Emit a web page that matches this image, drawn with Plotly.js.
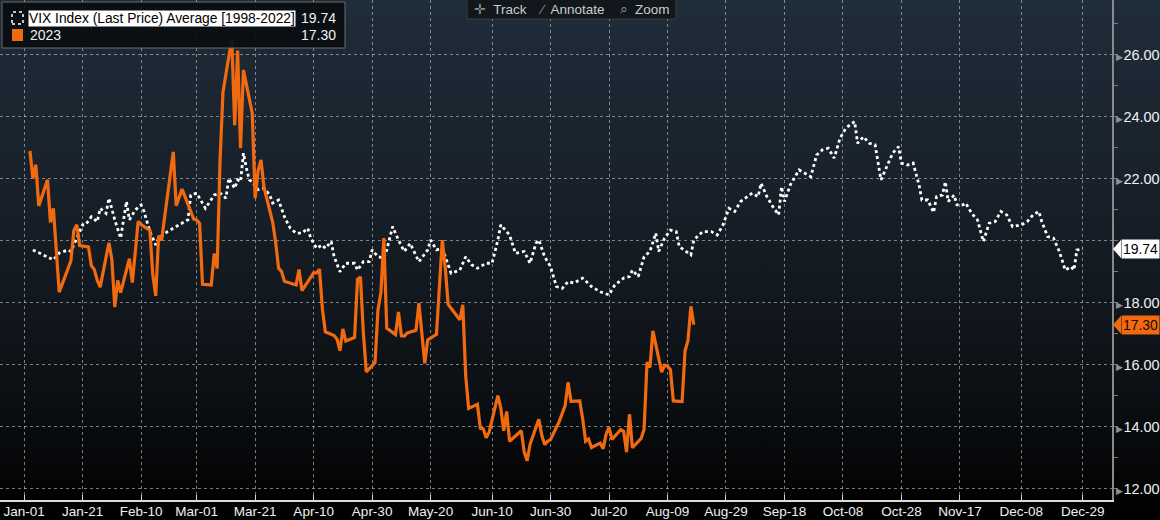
<!DOCTYPE html>
<html>
<head>
<meta charset="utf-8">
<script src="https://cdn.plot.ly/plotly-3.0.1.min.js"></script>
<style>
  html, body { margin: 0; padding: 0; background: #000; }
  #graph_body {
    width: 1160px; height: 520px;
    background: linear-gradient(180deg, #1f2c39 0%, #18212b 35%, #0c1014 75%, #000 100%);
  }
</style>
</head>
<body>
<div id="graph_body"></div>
<script>
// VIX average 1998-2022 vs 2023, Bloomberg style

// white dotted line: average of 1998-2022 laid on the 2023 calendar
var avg_dates = ['2023-01-04','2023-01-06','2023-01-11','2023-01-13','2023-01-16','2023-01-17','2023-01-18','2023-01-21','2023-01-22','2023-01-24',
  '2023-01-26','2023-01-27','2023-01-29','2023-01-30','2023-02-01','2023-02-03','2023-02-05','2023-02-06','2023-02-08','2023-02-10',
  '2023-02-11','2023-02-13','2023-02-15','2023-02-16','2023-02-19','2023-02-23','2023-02-26','2023-02-27','2023-03-01','2023-03-02',
  '2023-03-04','2023-03-07','2023-03-09','2023-03-11','2023-03-12','2023-03-14','2023-03-15','2023-03-16','2023-03-17','2023-03-18',
  '2023-03-19','2023-03-20','2023-03-22','2023-03-24','2023-03-26','2023-03-27','2023-03-29','2023-03-31','2023-04-02','2023-04-04',
  '2023-04-06','2023-04-08','2023-04-09','2023-04-11','2023-04-13','2023-04-14','2023-04-16','2023-04-17','2023-04-19','2023-04-21',
  '2023-04-24','2023-04-25','2023-04-27','2023-04-29','2023-04-30','2023-05-02','2023-05-04','2023-05-05','2023-05-07','2023-05-09',
  '2023-05-11','2023-05-13','2023-05-16','2023-05-19','2023-05-20','2023-05-22','2023-05-24','2023-05-27','2023-05-30','2023-06-01',
  '2023-06-03','2023-06-05','2023-06-08','2023-06-10','2023-06-12','2023-06-13','2023-06-16','2023-06-18','2023-06-21','2023-06-23',
  '2023-06-25','2023-06-26','2023-06-28','2023-06-30','2023-07-02','2023-07-04','2023-07-06','2023-07-08','2023-07-11','2023-07-14',
  '2023-07-17','2023-07-20','2023-07-22','2023-07-25','2023-07-27','2023-07-28','2023-07-30','2023-08-01','2023-08-03','2023-08-05',
  '2023-08-06','2023-08-08','2023-08-10','2023-08-12','2023-08-13','2023-08-17','2023-08-18','2023-08-21','2023-08-24','2023-08-26',
  '2023-08-28','2023-08-30','2023-09-01','2023-09-03','2023-09-06','2023-09-07','2023-09-09','2023-09-10','2023-09-12','2023-09-14',
  '2023-09-16','2023-09-17','2023-09-18','2023-09-20','2023-09-23','2023-09-26','2023-09-27','2023-09-29','2023-10-01','2023-10-03',
  '2023-10-05','2023-10-07','2023-10-09','2023-10-12','2023-10-13','2023-10-15','2023-10-17','2023-10-19','2023-10-21','2023-10-23',
  '2023-10-25','2023-10-27','2023-10-28','2023-10-30','2023-11-01','2023-11-03','2023-11-04','2023-11-06','2023-11-08','2023-11-09',
  '2023-11-11','2023-11-12','2023-11-13','2023-11-15','2023-11-16','2023-11-18','2023-11-19','2023-11-21','2023-11-23','2023-11-25',
  '2023-11-27','2023-11-29','2023-12-01','2023-12-03','2023-12-05','2023-12-08','2023-12-10','2023-12-12','2023-12-14','2023-12-15',
  '2023-12-17','2023-12-19','2023-12-21','2023-12-23','2023-12-25','2023-12-26','2023-12-27','2023-12-29'];
var avg_values = [19.71,19.62,19.39,19.61,19.71,19.66,19.87,20.52,20.52,20.78,
  20.62,21.05,20.89,21.38,20.68,20.09,21.27,20.68,21.00,21.16,
  20.95,20.30,19.87,20.09,20.30,20.52,20.68,21.48,21.54,21.38,
  21.05,21.48,21.54,21.38,22.02,21.70,21.97,21.91,22.83,22.35,
  21.97,21.91,21.65,21.70,21.48,21.22,21.32,20.78,20.41,20.25,
  20.25,20.41,20.09,19.76,19.87,19.76,19.98,19.49,19.01,19.28,
  19.28,19.06,19.33,19.33,19.71,19.49,19.44,19.71,20.46,20.03,
  19.66,19.92,19.33,19.71,20.03,19.71,19.76,18.96,19.06,19.49,
  19.23,19.12,19.28,19.28,20.03,20.52,20.19,19.60,19.66,19.28,
  19.92,20.03,19.49,19.17,18.53,18.47,18.69,18.64,18.80,18.53,
  18.36,18.26,18.58,18.80,18.85,19.06,18.85,19.49,19.66,20.25,
  19.66,20.09,20.35,20.30,19.82,19.55,20.03,20.30,20.30,20.19,
  20.52,21.05,20.95,21.27,21.48,21.54,21.43,21.86,21.43,21.11,
  20.84,21.75,21.27,21.81,22.29,22.13,22.07,22.77,22.94,22.99,
  22.67,23.31,23.64,23.85,23.15,23.36,23.15,23.10,21.97,22.40,
  22.83,23.04,22.51,22.45,22.51,21.81,21.32,21.32,20.92,21.43,
  21.48,21.91,21.27,21.48,21.16,21.16,21.22,20.89,20.68,19.98,
  20.57,20.62,20.95,20.84,20.46,20.52,20.62,20.84,20.95,20.62,
  20.14,20.09,19.66,19.06,19.17,19.06,19.71,19.74];

// orange line: 2023 daily closes
var ytd_dates = ['2023-01-03','2023-01-04','2023-01-05','2023-01-06','2023-01-09','2023-01-10','2023-01-11','2023-01-12','2023-01-13','2023-01-17',
  '2023-01-18','2023-01-19','2023-01-20','2023-01-23','2023-01-24','2023-01-25','2023-01-26','2023-01-27','2023-01-30','2023-01-31',
  '2023-02-01','2023-02-02','2023-02-03','2023-02-06','2023-02-07','2023-02-08','2023-02-09','2023-02-10','2023-02-13','2023-02-14',
  '2023-02-15','2023-02-16','2023-02-17','2023-02-21','2023-02-22','2023-02-23','2023-02-24','2023-02-27','2023-02-28','2023-03-01',
  '2023-03-02','2023-03-03','2023-03-06','2023-03-07','2023-03-08','2023-03-09','2023-03-10','2023-03-13','2023-03-14','2023-03-15',
  '2023-03-16','2023-03-17','2023-03-20','2023-03-21','2023-03-22','2023-03-23','2023-03-24','2023-03-27','2023-03-28','2023-03-29',
  '2023-03-30','2023-03-31','2023-04-03','2023-04-04','2023-04-05','2023-04-06','2023-04-10','2023-04-11','2023-04-12','2023-04-13',
  '2023-04-14','2023-04-17','2023-04-18','2023-04-19','2023-04-20','2023-04-21','2023-04-24','2023-04-25','2023-04-26','2023-04-27',
  '2023-04-28','2023-05-01','2023-05-02','2023-05-03','2023-05-04','2023-05-05','2023-05-08','2023-05-09','2023-05-10','2023-05-11',
  '2023-05-12','2023-05-15','2023-05-16','2023-05-17','2023-05-18','2023-05-19','2023-05-22','2023-05-23','2023-05-24','2023-05-25',
  '2023-05-26','2023-05-30','2023-05-31','2023-06-01','2023-06-02','2023-06-05','2023-06-06','2023-06-07','2023-06-08','2023-06-09',
  '2023-06-12','2023-06-13','2023-06-14','2023-06-15','2023-06-16','2023-06-20','2023-06-21','2023-06-22','2023-06-23','2023-06-26',
  '2023-06-27','2023-06-28','2023-06-29','2023-06-30','2023-07-03','2023-07-05','2023-07-06','2023-07-07','2023-07-10','2023-07-11',
  '2023-07-12','2023-07-13','2023-07-14','2023-07-17','2023-07-18','2023-07-19','2023-07-20','2023-07-21','2023-07-24','2023-07-25',
  '2023-07-26','2023-07-27','2023-07-28','2023-07-31','2023-08-01','2023-08-02','2023-08-03','2023-08-04','2023-08-07','2023-08-08',
  '2023-08-09','2023-08-10','2023-08-11','2023-08-14','2023-08-15','2023-08-16','2023-08-17','2023-08-18'];
var ytd_values = [22.90,22.01,22.46,21.13,21.97,20.60,21.05,19.83,18.35,19.36,
  20.34,20.52,19.85,19.81,19.20,19.08,18.73,18.51,19.94,19.40,
  17.87,18.73,18.33,19.43,18.66,19.63,20.63,20.53,20.34,18.91,
  18.23,20.17,20.02,22.87,21.14,21.40,21.67,20.95,20.70,20.68,
  20.57,18.60,18.58,19.59,19.11,22.61,24.80,26.52,23.73,26.14,
  22.99,25.51,24.12,21.38,22.26,22.61,21.74,20.60,19.97,19.12,
  19.02,18.70,18.60,18.58,19.08,18.40,18.97,18.97,19.09,17.80,
  17.07,16.95,16.83,16.46,17.16,16.77,16.89,18.76,18.84,17.03,
  15.78,16.08,17.78,18.34,20.09,17.19,16.98,17.71,16.94,16.93,
  17.03,17.12,17.99,16.87,16.05,16.81,16.99,18.53,20.03,19.14,
  17.95,17.46,17.94,15.65,14.60,14.73,13.96,13.94,13.65,13.83,
  15.01,14.61,13.88,14.50,13.54,13.88,13.20,12.91,13.44,14.25,
  13.74,13.43,13.54,13.59,14.18,14.69,15.44,14.83,14.84,14.26,
  13.54,13.61,13.34,13.48,13.30,13.76,13.99,13.60,13.91,13.86,
  13.19,14.41,13.33,13.63,13.93,16.09,15.92,17.10,15.77,15.99,
  15.96,15.85,14.84,14.82,16.46,16.78,17.89,17.30];

// axis ticks
var x_tick_dates = ['2023-01-01','2023-01-21','2023-02-10','2023-03-01','2023-03-21','2023-04-10','2023-04-30','2023-05-20','2023-06-10','2023-06-30',
  '2023-07-20','2023-08-09','2023-08-29','2023-09-18','2023-10-08','2023-10-28','2023-11-17','2023-12-08','2023-12-29'];
var x_tick_labels = ['Jan-01','Jan-21','Feb-10','Mar-01','Mar-21','Apr-10','Apr-30','May-20','Jun-10','Jun-30',
  'Jul-20','Aug-09','Aug-29','Sep-18','Oct-08','Oct-28','Nov-17','Dec-08','Dec-29'];
var y_ticks = [12, 14, 16, 18, 20, 22, 24, 26];

var avg_name = 'VIX Index (Last Price) Average [1998-2022]';
var ytd_name = '2023';
var avg_color = '#ffffff';
var ytd_color = '#f26a10';

// plot area in pixels, used for the overlay boxes
var W = 1160, H = 520;
var M = {l: 0, r: 48, t: 0, b: 20};
var plotW = W - M.l - M.r;
var plotH = H - M.t - M.b;
var y_range = [11.645, 27.77];

function px(x){ return x / plotW; }
function py(y){ return 1 - y / plotH; }
function vy(v){ return (v - y_range[0]) / (y_range[1] - y_range[0]); }

function last(arr){ return arr[arr.length - 1]; }

function chart_generator(){

    var avg_last = last(avg_values);
    var ytd_last = last(ytd_values);
    var font = 'Liberation Sans, Arial, sans-serif';

    // the 20.00 label sits under the white price tag, so it is left blank
    var y_text = [];
    for (var i = 0; i < y_ticks.length; i++){
        if (Math.abs(y_ticks[i] - avg_last) < 0.6){
            y_text.push('');
        }else{
            y_text.push('<span style="color:#8f8f8f;font-size:9px">\u25B6</span>' + y_ticks[i].toFixed(2));
        }
    }

    var data = [
        {
          x: avg_dates,
          y: avg_values,
          type: 'scatter',
          mode: 'lines',
          name: avg_name,
          line: {color: avg_color, width: 2.8, dash: 'dot'},
          hoverinfo: 'skip'
        },
        {
          x: ytd_dates,
          y: ytd_values,
          type: 'scatter',
          mode: 'lines',
          name: ytd_name,
          line: {color: ytd_color, width: 3.2},
          hoverinfo: 'skip'
        }
      ];

    // legend box, toolbar and price tags
    var shapes = [
        {type: 'rect', xref: 'paper', yref: 'paper', x0: px(2), x1: px(345), y0: py(48), y1: py(2),
         fillcolor: 'rgba(8,12,16,0.9)', line: {color: '#6c6c6c', width: 1}, layer: 'above'},
        {type: 'rect', xref: 'paper', yref: 'paper', x0: px(12), x1: px(23), y0: py(24), y1: py(12),
         line: {color: avg_color, width: 1.5, dash: 'dot'}, layer: 'above'},
        {type: 'rect', xref: 'paper', yref: 'paper', x0: px(12), x1: px(23), y0: py(41), y1: py(29),
         fillcolor: ytd_color, line: {width: 0}, layer: 'above'},
        {type: 'rect', xref: 'paper', yref: 'paper', x0: px(467), x1: px(676), y0: py(19), y1: py(-2),
         fillcolor: '#12171c', line: {color: '#3a3f45', width: 1}, layer: 'above'},
        // arrow heads of the price tags
        {type: 'path', xref: 'paper', yref: 'paper', layer: 'above',
         path: 'M ' + px(1113) + ' ' + vy(avg_last) + ' L ' + px(1121) + ' ' + (vy(avg_last) + 9 / plotH) +
               ' L ' + px(1121) + ' ' + (vy(avg_last) - 9 / plotH) + ' Z',
         fillcolor: '#ffffff', line: {width: 0}},
        {type: 'path', xref: 'paper', yref: 'paper', layer: 'above',
         path: 'M ' + px(1113) + ' ' + vy(ytd_last) + ' L ' + px(1121) + ' ' + (vy(ytd_last) + 9 / plotH) +
               ' L ' + px(1121) + ' ' + (vy(ytd_last) - 9 / plotH) + ' Z',
         fillcolor: ytd_color, line: {width: 0}}
    ];

    var annotations = [
        {xref: 'paper', yref: 'paper', x: px(28), y: py(18), xanchor: 'left', yanchor: 'middle', showarrow: false,
         text: avg_name, bgcolor: '#ffffff', borderpad: 0, font: {family: font, size: 13.8, color: '#000'}},
        {xref: 'paper', yref: 'paper', x: px(338), y: py(18), xanchor: 'right', yanchor: 'middle', showarrow: false,
         text: avg_last.toFixed(2), font: {family: font, size: 14, color: '#f0f0f0'}},
        {xref: 'paper', yref: 'paper', x: px(28), y: py(35), xanchor: 'left', yanchor: 'middle', showarrow: false,
         text: ytd_name, font: {family: font, size: 14, color: '#f0f0f0'}},
        {xref: 'paper', yref: 'paper', x: px(338), y: py(35), xanchor: 'right', yanchor: 'middle', showarrow: false,
         text: ytd_last.toFixed(2), font: {family: font, size: 14, color: '#f0f0f0'}},
        // toolbar
        {xref: 'paper', yref: 'paper', x: px(572), y: py(9), xanchor: 'center', yanchor: 'middle', showarrow: false,
         text: '<span style="color:#8a8f95">\u271B</span>  Track    <span style="color:#8a8f95">\u2215</span>  Annotate    <span style="color:#8a8f95">\u2315</span>  Zoom',
         font: {family: font, size: 13.5, color: '#c9ccd0'}},
        // price tags on the right axis
        {xref: 'paper', yref: 'paper', x: px(1121), y: vy(avg_last), xanchor: 'left', yanchor: 'middle', showarrow: false,
         text: avg_last.toFixed(2), bgcolor: '#ffffff', borderpad: 1, width: 35,
         font: {family: font, size: 14, color: '#000'}},
        {xref: 'paper', yref: 'paper', x: px(1121), y: vy(ytd_last), xanchor: 'left', yanchor: 'middle', showarrow: false,
         text: ytd_last.toFixed(2), bgcolor: ytd_color, borderpad: 1, width: 35,
         font: {family: font, size: 14, color: '#1a0a00'}}
    ];

    var layout = {
        width: W,
        height: H,
        margin: M,
        showlegend: false,
        paper_bgcolor: 'rgba(0,0,0,0)',
        plot_bgcolor: 'rgba(0,0,0,0)',
        font: {family: font, size: 13.5, color: '#eeeeee'},
        xaxis: {
            type: 'date',
            range: ['2022-12-23 18:00', '2024-01-08'],
            tickvals: x_tick_dates,
            ticktext: x_tick_labels,
            showgrid: true,
            gridcolor: 'rgba(200,200,200,0.6)',
            griddash: 'dot',
            gridwidth: 1,
            showline: true,
            linecolor: '#dcdcdc',
            linewidth: 1.5,
            ticks: 'inside',
            ticklen: 5,
            tickcolor: '#d8d8d8',
            ticklabelstandoff: -2,
            tickfont: {family: font, size: 13.5, color: '#f0f0f0'},
            zeroline: false,
            fixedrange: true
        },
        yaxis: {
            side: 'right',
            range: y_range,
            tickvals: y_ticks,
            ticktext: y_text,
            showgrid: true,
            gridcolor: 'rgba(200,200,200,0.6)',
            griddash: 'dot',
            gridwidth: 1,
            showline: true,
            linecolor: '#8a8a8a',
            linewidth: 1.5,
            ticks: '',
            minor: {dtick: 1, tick0: 11, ticks: 'outside', ticklen: 4, tickcolor: '#7a7a7a', showgrid: false},
            tickfont: {family: font, size: 14.5, color: '#f0f0f0'},
            zeroline: false,
            fixedrange: true
        },
        shapes: shapes,
        annotations: annotations
    };

    var config = {staticPlot: true, displayModeBar: false}

    Plotly.newPlot('graph_body', data, layout, config);
}

chart_generator();
</script>
</body>
</html>
